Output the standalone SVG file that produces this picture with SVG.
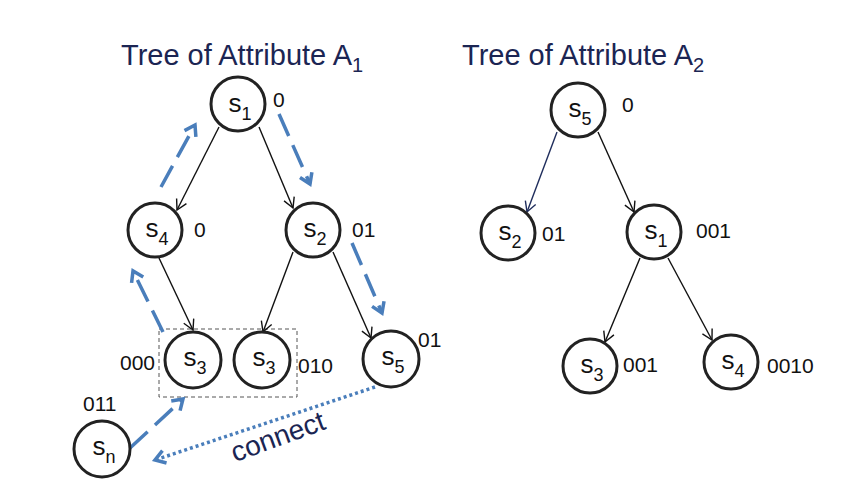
<svg xmlns="http://www.w3.org/2000/svg" width="852" height="492" viewBox="0 0 852 492">
<style>
.node circle{fill:#fff;stroke:#222;stroke-width:3}
.lbl{font-family:"Liberation Sans",Arial,sans-serif;font-size:26px;fill:#111;text-anchor:middle}
.sub{font-size:18px}
.code{font-family:"Liberation Sans",Arial,sans-serif;font-size:21px;fill:#111}
.title{font-family:"Liberation Sans",Arial,sans-serif;font-size:29px;fill:#1b2553}
.blk{stroke:#111;stroke-width:1.4;fill:none;marker-end:url(#ah)}
.blu{stroke:#4a7ebb;stroke-width:3.5;fill:none;stroke-dasharray:24 10;marker-end:url(#bh)}
.dot{stroke:#4a7ebb;stroke-width:3.5;fill:none;stroke-dasharray:3 3;marker-end:url(#bh)}
</style>
<defs>
<marker id="ah" markerUnits="userSpaceOnUse" markerWidth="14" markerHeight="14" viewBox="0 0 14 14" refX="12" refY="7" orient="auto" overflow="visible">
<path d="M2,1.5 L12,7 L2,12.5" fill="none" stroke="#111" stroke-width="1.4"/>
</marker>
<marker id="an" markerUnits="userSpaceOnUse" markerWidth="14" markerHeight="14" viewBox="0 0 14 14" refX="12" refY="7" orient="auto" overflow="visible">
<path d="M2,1.5 L12,7 L2,12.5" fill="none" stroke="#1f2d5c" stroke-width="1.4"/>
</marker>
<marker id="bh" markerUnits="userSpaceOnUse" markerWidth="16" markerHeight="16" viewBox="0 0 16 16" refX="13" refY="8" orient="auto" overflow="visible">
<path d="M3,1.5 L13,8 L3,14.5" fill="none" stroke="#4a7ebb" stroke-width="3.5"/>
</marker>
</defs>

<text class="title" x="121" y="65">Tree of Attribute A<tspan font-size="20" dy="7">1</tspan></text>
<text class="title" x="462" y="65">Tree of Attribute A<tspan font-size="20" dy="7">2</tspan></text>

<rect x="159" y="329" width="138" height="68" fill="none" stroke="#555" stroke-width="1" stroke-dasharray="4 3"/>

<g id="connectors">
<line class="blk" x1="219" y1="127" x2="177" y2="210"/>
<line class="blk" x1="259" y1="127" x2="293" y2="208"/>
<line class="blk" x1="159" y1="258" x2="193" y2="330"/>
<line class="blk" x1="293" y1="252" x2="263" y2="332"/>
<line class="blk" x1="333" y1="252" x2="371" y2="338"/>
<line class="blk" x1="557" y1="132" x2="527" y2="212" style="stroke:#1f2d5c;marker-end:url(#an)"/>
<line class="blk" x1="598" y1="132" x2="634" y2="212"/>
<line class="blk" x1="640" y1="258" x2="605" y2="342"/>
<line class="blk" x1="668" y1="258" x2="712" y2="340"/>
<line class="blu" x1="161" y1="187" x2="195" y2="125"/>
<line class="blu" x1="279" y1="114" x2="310" y2="184"/>
<line class="blu" x1="352" y1="243" x2="382" y2="313"/>
<line class="blu" x1="163" y1="332" x2="133" y2="271"/>
<line class="blu" x1="130" y1="448" x2="183" y2="399"/>
<line class="dot" x1="375" y1="387" x2="155" y2="460"/>
</g>

<g id="n-s1" class="node"><circle cx="238" cy="104" r="27"/><text class="lbl" x="240" y="112">s<tspan class="sub" dy="8">1</tspan></text></g>
<g id="n-s4" class="node"><circle cx="155" cy="230" r="27"/><text class="lbl" x="157" y="237">s<tspan class="sub" dy="8">4</tspan></text></g>
<g id="n-s2" class="node"><circle cx="313" cy="230" r="27"/><text class="lbl" x="315" y="237">s<tspan class="sub" dy="8">2</tspan></text></g>
<g id="n-s3a" class="node"><circle cx="193" cy="360" r="28"/><text class="lbl" x="195" y="366">s<tspan class="sub" dy="8">3</tspan></text></g>
<g id="n-s3b" class="node"><circle cx="262" cy="360" r="28"/><text class="lbl" x="264" y="366">s<tspan class="sub" dy="8">3</tspan></text></g>
<g id="n-s5a" class="node"><circle cx="391" cy="359" r="28"/><text class="lbl" x="393" y="365">s<tspan class="sub" dy="8">5</tspan></text></g>
<g id="n-sn" class="node"><circle cx="102" cy="449" r="28"/><text class="lbl" x="104" y="455">s<tspan class="sub" dy="8">n</tspan></text></g>

<g id="n-r-s5" class="node"><circle cx="578" cy="110" r="27"/><text class="lbl" x="580" y="117">s<tspan class="sub" dy="8">5</tspan></text></g>
<g id="n-r-s2" class="node"><circle cx="508" cy="233" r="27"/><text class="lbl" x="510" y="240">s<tspan class="sub" dy="8">2</tspan></text></g>
<g id="n-r-s1" class="node"><circle cx="654" cy="232" r="27"/><text class="lbl" x="656" y="239">s<tspan class="sub" dy="8">1</tspan></text></g>
<g id="n-r-s3" class="node"><circle cx="590" cy="366" r="27"/><text class="lbl" x="592" y="373">s<tspan class="sub" dy="8">3</tspan></text></g>
<g id="n-r-s4" class="node"><circle cx="731" cy="362" r="27"/><text class="lbl" x="733" y="369">s<tspan class="sub" dy="8">4</tspan></text></g>

<g id="codes">
<text class="code" x="273" y="107">0</text>
<text class="code" x="194" y="237">0</text>
<text class="code" x="352" y="237">01</text>
<text class="code" x="120" y="370">000</text>
<text class="code" x="298" y="373">010</text>
<text class="code" x="418" y="347">01</text>
<text class="code" x="83" y="411" fill="#1b2553">011</text>
<text class="code" x="622" y="112">0</text>
<text class="code" x="542" y="241">01</text>
<text class="code" x="696" y="238">001</text>
<text class="code" x="623" y="372">001</text>
<text class="code" x="767" y="373">0010</text>
</g>

<text x="278" y="446" transform="rotate(-20 278 437)" font-family="Liberation Sans,Arial,sans-serif" font-size="28" fill="#1b2553" text-anchor="middle">connect</text>
</svg>
